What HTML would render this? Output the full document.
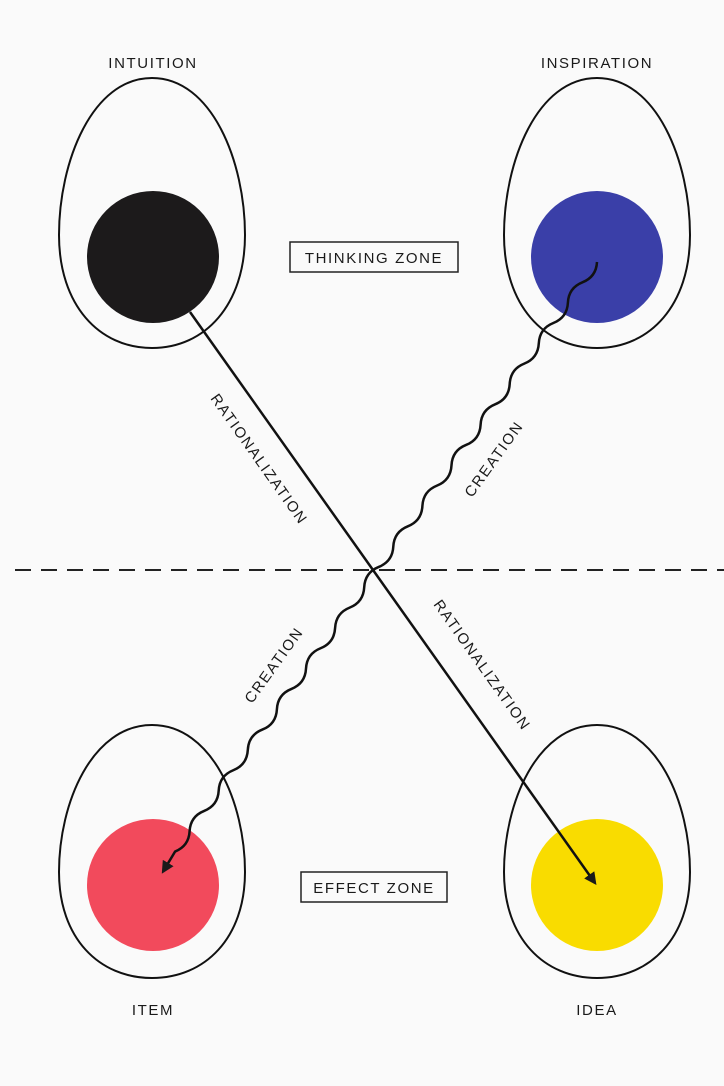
<!DOCTYPE html>
<html><head><style>
html,body{margin:0;padding:0;background:#fafafa;}
svg{display:block}
text{font-family:"Liberation Sans",sans-serif;font-size:15px;letter-spacing:1.6px;fill:#1a1a1a}
</style></head><body>
<svg width="724" height="1086" viewBox="0 0 724 1086" xmlns="http://www.w3.org/2000/svg">
<defs>
<marker id="ah" viewBox="0 0 10 10" refX="8" refY="5" markerWidth="5" markerHeight="5" orient="auto" markerUnits="strokeWidth">
<path d="M0,0 L10,5 L0,10 z" fill="#1a1a1a"/></marker>
</defs>
<rect width="724" height="1086" fill="#fafafa"/>
<g fill="none" stroke="#111" stroke-width="2">
<path d="M152,78 C212,78 245,162 245,235 C245,305 205,348 152,348 C99,348 59,305 59,235 C59,162 92,78 152,78Z"/>
<path d="M597,78 C657,78 690,162 690,235 C690,305 650,348 597,348 C544,348 504,305 504,235 C504,162 537,78 597,78Z"/>
<path d="M152,725 C212,725 245,803 245,872 C245,938 205,978 152,978 C99,978 59,938 59,872 C59,803 92,725 152,725Z"/>
<path d="M597,725 C657,725 690,803 690,872 C690,938 650,978 597,978 C544,978 504,938 504,872 C504,803 537,725 597,725Z"/>
</g>
<circle cx="153" cy="257" r="66" fill="#1c1a1b"/>
<circle cx="597" cy="257" r="66" fill="#3a3fa8"/>
<circle cx="153" cy="885" r="66" fill="#f24a5c"/>
<circle cx="597" cy="885" r="66" fill="#f9dc00"/>
<line x1="15" y1="570" x2="724" y2="570" stroke="#222" stroke-width="2" stroke-dasharray="16 10"/>
<line x1="190" y1="312" x2="595" y2="883" stroke="#111" stroke-width="2.5" marker-end="url(#ah)"/>
<path d="M597,262 q-0.77,14.82 -14.55,20.33 t-14.55,20.33 t-14.55,20.33 t-14.55,20.33 t-14.55,20.33 t-14.55,20.33 t-14.55,20.33 t-14.55,20.33 t-14.55,20.33 t-14.55,20.33 t-14.55,20.33 t-14.55,20.33 t-14.55,20.33 t-14.55,20.33 t-14.55,20.33 t-14.55,20.33 t-14.55,20.33 t-14.55,20.33 t-14.55,20.33 t-14.55,20.33 t-14.55,20.33 t-14.55,20.33 t-14.55,20.33 t-14.55,20.33 t-14.55,20.33 t-14.55,20.33 t-14.55,20.33 t-14.55,20.33 t-14.55,20.33 l-12,20" fill="none" stroke="#111" stroke-width="2.5" marker-end="url(#ah)"/>
<text x="153" y="68" text-anchor="middle">INTUITION</text>
<text x="597" y="68" text-anchor="middle">INSPIRATION</text>
<text x="153" y="1015" text-anchor="middle">ITEM</text>
<text x="597" y="1015" text-anchor="middle">IDEA</text>
<rect x="290" y="242" width="168" height="30" fill="none" stroke="#222" stroke-width="1.5"/>
<text x="374" y="263" text-anchor="middle">THINKING ZONE</text>
<rect x="301" y="872" width="146" height="30" fill="none" stroke="#222" stroke-width="1.5"/>
<text x="374" y="893" text-anchor="middle">EFFECT ZONE</text>
<text transform="translate(255,462) rotate(54.7)" text-anchor="middle">RATIONALIZATION</text>
<text transform="translate(478,668) rotate(54.7)" text-anchor="middle">RATIONALIZATION</text>
<text transform="translate(498,462) rotate(-54.4)" text-anchor="middle">CREATION</text>
<text transform="translate(278,668) rotate(-54.4)" text-anchor="middle">CREATION</text>
</svg>
</body></html>
